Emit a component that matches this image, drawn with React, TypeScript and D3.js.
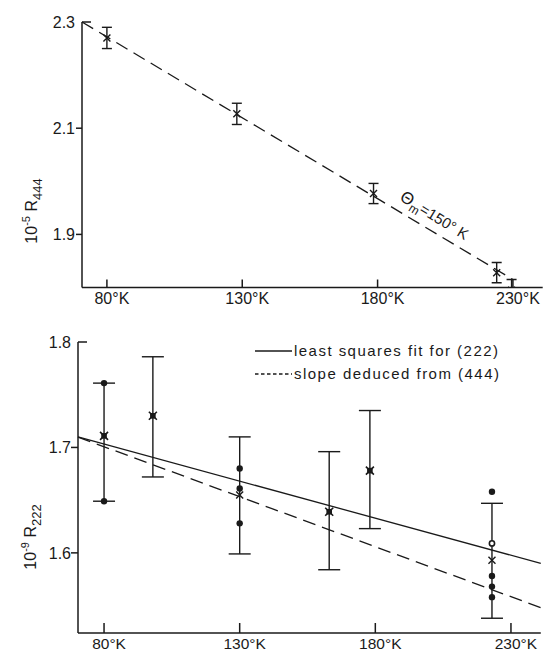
import React from 'react'
import * as d3 from 'd3'

// top panel: R444
const topTemps = [80, 128, 178.5, 224, 229.5]
const topValues = [2.27, 2.127, 1.977, 1.828, 1.795]
const topErrors = [0.02, 0.02, 0.019, 0.019, 0.02]
const topFitTemps = [70.8, 230]
const topFitValues = [2.3, 1.815]
const topYTicks = [1.9, 2.1, 2.3]

// bottom panel: R222
const botTemps = [80, 98, 130, 163, 178, 223]
const botValues = [1.711, 1.73, 1.655, 1.639, 1.678, 1.593]
const botBarMid = [1.705, 1.729, 1.6545, 1.64, 1.679, 1.5925]
const botErrors = [0.056, 0.057, 0.0555, 0.056, 0.056, 0.0545]
const botMarkers = ['box', 'box', 'cross', 'box', 'box', 'cross']
const dotTemps = [80, 80, 130, 130, 130, 223, 223, 223, 223, 223]
const dotValues = [1.761, 1.649, 1.68, 1.661, 1.628, 1.658, 1.609, 1.578, 1.568, 1.558]
const dotOpen = [false, false, false, false, false, false, true, false, false, false]
const fitTemps = [70.4, 241]
const lsqValues = [1.71, 1.59]
const slopeValues = [1.7098, 1.548]
const botYTicks = [1.6, 1.7, 1.8]

const xTicks = [80, 130, 180, 230]
const xTickLabels = ['80°K', '130°K', '180°K', '230°K']
const legendLabels = ['least squares fit for (222)', 'slope deduced from (444)']

const INK = '#1a1a1a'
const FONT = '"Liberation Sans", Arial, sans-serif'

export default function App() {
    const topX = d3.scaleLinear().domain([70.8, 241]).range([82, 542.7])
    const topY = d3.scaleLinear().domain([1.8, 2.3]).range([287.5, 22])
    const botX = d3.scaleLinear().domain([70.4, 241]).range([78, 540.8])
    const botY = d3.scaleLinear().domain([1.524, 1.8]).range([633, 342])

    const topLine = d3.line<number>()
        .x((d, i) => topX(topFitTemps[i]))
        .y(d => topY(d))
    const botLine = d3.line<number>()
        .x((d, i) => botX(fitTemps[i]))
        .y(d => botY(d))

    const [tx0, tx1] = topX.range()
    const [ty0, ty1] = topY.range()
    const [bx0, bx1] = botX.range()
    const [by0, by1] = botY.range()

    // annotation along the dashed line
    const annK = 190
    const annV = topFitValues[0] + (topFitValues[1] - topFitValues[0]) * (annK - topFitTemps[0]) / (topFitTemps[1] - topFitTemps[0])

    const cross = (cx: number, cy: number, s: number) =>
        `M${cx - s},${cy - s}L${cx + s},${cy + s}M${cx - s},${cy + s}L${cx + s},${cy - s}`

    return (
        <svg width={543} height={653} style={{ position: 'absolute', left: 0, top: 0, background: '#fff' }}
            fontFamily={FONT}>
            <defs>
                <clipPath id="top-clip">
                    <rect x={tx0} y={0} width={tx1 - tx0} height={ty0} />
                </clipPath>
            </defs>

            {/* ---------- top panel ---------- */}
            <g stroke={INK} strokeWidth={1.5} fill="none">
                <line x1={tx0} y1={ty1} x2={tx0} y2={ty0} />
                <line x1={tx0} y1={ty0} x2={tx1} y2={ty0} />
                {topYTicks.map(t => (
                    t === 2.3
                        ? <line key={t} x1={tx0} y1={topY(t)} x2={tx0 + 9} y2={topY(t)} />
                        : <line key={t} x1={tx0 - 6} y1={topY(t)} x2={tx0} y2={topY(t)} />
                ))}
                {xTicks.map(t => (
                    <line key={t} x1={topX(t)} y1={ty0} x2={topX(t)} y2={ty0 - 8} />
                ))}
            </g>
            {topYTicks.map(t => (
                <text key={t} x={tx0 - 7} y={topY(t)} dy="0.36em" textAnchor="end" fontSize={16} fill={INK}>
                    {t.toFixed(1)}
                </text>
            ))}
            {xTicks.map((t, i) => (
                <text key={t} x={topX(t) + 5} y={304} textAnchor="middle" fontSize={16} fill={INK}>
                    {xTickLabels[i]}
                </text>
            ))}
            <text transform="translate(37,211) rotate(-90)" textAnchor="middle" fontSize={16} fill={INK}>
                10<tspan dy={-7} fontSize={11}>-5</tspan><tspan dy={7}> R</tspan><tspan dy={5} fontSize={13}>444</tspan>
            </text>

            <path d={topLine(topFitValues) || ''} fill="none" stroke={INK} strokeWidth={1.3} strokeDasharray="13,7" />

            <g clipPath="url(#top-clip)" stroke={INK} strokeWidth={1.4} fill="none">
                {topTemps.map((t, i) => {
                    const cx = topX(t)
                    const yHi = topY(topValues[i] + topErrors[i])
                    const yLo = topY(topValues[i] - topErrors[i])
                    const cy = topY(topValues[i])
                    return (
                        <g key={i}>
                            <line x1={cx} y1={yHi} x2={cx} y2={yLo} />
                            <line x1={cx - 5} y1={yHi} x2={cx + 5} y2={yHi} />
                            <line x1={cx - 5} y1={yLo} x2={cx + 5} y2={yLo} />
                            <path d={cross(cx, cy, 3.5)} />
                        </g>
                    )
                })}
            </g>

            <text transform={`translate(${topX(annK) - 6},${topY(annV) - 15}) rotate(31.5)`} fontSize={15} fill={INK}>
                <tspan fontSize={17}>Θ</tspan><tspan dy={4} fontSize={12}>m</tspan><tspan dy={-4}>=150° K</tspan>
            </text>

            {/* ---------- bottom panel ---------- */}
            <g stroke={INK} strokeWidth={1.5} fill="none">
                <line x1={bx0} y1={by1} x2={bx0} y2={by0} />
                <line x1={bx0} y1={by0} x2={bx1} y2={by0} />
                {botYTicks.map(t => (
                    t === 1.8
                        ? <line key={t} x1={bx0} y1={botY(t)} x2={bx0 + 9} y2={botY(t)} />
                        : <line key={t} x1={bx0 - 7} y1={botY(t)} x2={bx0} y2={botY(t)} />
                ))}
                {xTicks.map(t => (
                    <line key={t} x1={botX(t)} y1={by0} x2={botX(t)} y2={by0 - 10} />
                ))}
            </g>
            {botYTicks.map(t => (
                <text key={t} x={bx0 - 7} y={botY(t)} dy="0.36em" textAnchor="end" fontSize={16} fill={INK}>
                    {t.toFixed(1)}
                </text>
            ))}
            {xTicks.map((t, i) => (
                <text key={t} x={botX(t) + 5} y={649} textAnchor="middle" fontSize={15.5} fill={INK}>
                    {xTickLabels[i]}
                </text>
            ))}
            <text transform="translate(36,537) rotate(-90)" textAnchor="middle" fontSize={16} fill={INK}>
                10<tspan dy={-7} fontSize={11}>-9</tspan><tspan dy={7}> R</tspan><tspan dy={5} fontSize={13}>222</tspan>
            </text>

            <path d={botLine(lsqValues) || ''} fill="none" stroke={INK} strokeWidth={1.3} />
            <path d={botLine(slopeValues) || ''} fill="none" stroke={INK} strokeWidth={1.3} strokeDasharray="13,7" />

            <g stroke={INK} strokeWidth={1.4} fill="none">
                {botTemps.map((t, i) => {
                    const cx = botX(t)
                    const yHi = botY(botBarMid[i] + botErrors[i])
                    const yLo = botY(botBarMid[i] - botErrors[i])
                    const cy = botY(botValues[i])
                    return (
                        <g key={i}>
                            <line x1={cx} y1={yHi} x2={cx} y2={yLo} />
                            <line x1={cx - 11} y1={yHi} x2={cx + 11} y2={yHi} />
                            <line x1={cx - 11} y1={yLo} x2={cx + 11} y2={yLo} />
                            {botMarkers[i] === 'box' ? (
                                <g>
                                    <rect x={cx - 2.8} y={cy - 2.8} width={5.6} height={5.6} fill={INK} stroke="none" />
                                    <path d={cross(cx, cy, 4)} strokeWidth={1.6} />
                                </g>
                            ) : (
                                <path d={cross(cx, cy, 3.5)} />
                            )}
                        </g>
                    )
                })}
                {dotTemps.map((t, i) => (
                    <circle key={i} cx={botX(t)} cy={botY(dotValues[i])} r={dotOpen[i] ? 2.6 : 3.2}
                        fill={dotOpen[i] ? '#fff' : INK} stroke={INK} strokeWidth={dotOpen[i] ? 1.6 : 0} />
                ))}
            </g>

            {/* legend */}
            <g stroke={INK} strokeWidth={1.3}>
                <line x1={255} y1={351} x2={292} y2={351} />
                <line x1={255} y1={374} x2={292} y2={374} strokeDasharray="3.5,2.5" />
            </g>
            <text x={294} y={356} fontSize={15} fill={INK} textLength={204} lengthAdjust="spacing">
                {legendLabels[0]}
            </text>
            <text x={294} y={379} fontSize={15} fill={INK} textLength={205} lengthAdjust="spacing">
                {legendLabels[1]}
            </text>
        </svg>
    )
}
